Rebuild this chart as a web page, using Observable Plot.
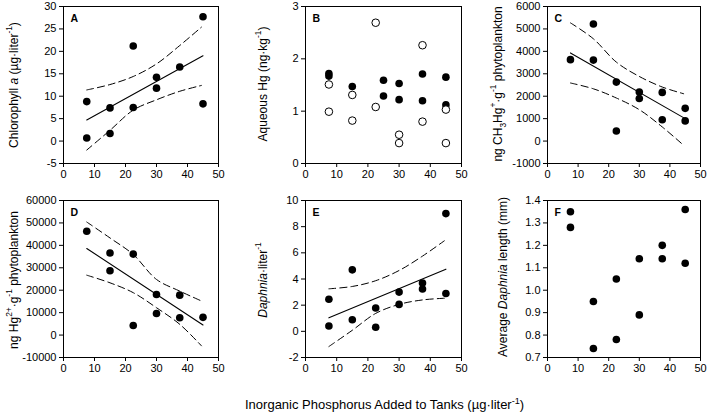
<!DOCTYPE html>
<html><head><meta charset="utf-8">
<script src="https://cdn.jsdelivr.net/npm/d3@7"></script>
<script src="https://cdn.jsdelivr.net/npm/@observablehq/plot@0.6"></script>
<style>
body{margin:0;background:#fff;}
#chart{position:relative;width:710px;height:415px;background:#fff;}
#chart > svg{position:absolute;}
</style></head><body><div id="chart"></div>
<script>
const FONT = "'Liberation Sans', Arial, sans-serif";
const xTicks = [0, 10, 20, 30, 40, 50];
const ciX = [7.5, 15, 22.5, 30, 37.5, 44.5];
const fitX = [7.5, 45];

// Panel A: chlorophyll a
const chlX = [7.5, 7.5, 15, 15, 22.5, 22.5, 30, 30, 37.5, 45, 45];
const chlY = [8.8, 0.7, 7.4, 1.7, 21.2, 7.5, 14.2, 11.8, 16.5, 27.7, 8.3];
const chlFit = [4.7, 19.0];
const chlUpper = [11.4, 12.6, 14.4, 17.2, 21.3, 25.4];
const chlLower = [-2.0, 2.4, 6.9, 9.2, 11.1, 12.4];
const chlTicks = [-5, 0, 5, 10, 15, 20, 25, 30];

// Panel B: aqueous Hg (filled and open)
const hgFilledX = [7.5, 7.5, 15, 25, 25, 30, 30, 37.5, 37.5, 45, 45];
const hgFilledY = [1.72, 1.67, 1.47, 1.59, 1.29, 1.53, 1.22, 1.71, 1.20, 1.65, 1.12];
const hgOpenX = [7.5, 7.5, 15, 15, 22.5, 22.5, 30, 30, 37.5, 37.5, 45, 45];
const hgOpenY = [1.51, 0.99, 1.31, 0.82, 2.69, 1.08, 0.55, 0.39, 2.26, 0.80, 1.03, 0.39];
const hgTicks = [0, 1, 2, 3];

// Panel C: CH3Hg+ in phytoplankton
const mehgX = [7.5, 15, 15, 22.5, 22.5, 30, 30, 37.5, 37.5, 45, 45];
const mehgY = [3630, 5220, 3610, 2630, 450, 2190, 1900, 2170, 950, 1460, 900];
const mehgFit = [3930, 1000];
const mehgUpper = [5270, 4560, 3520, 2880, 2410, 2110];
const mehgLower = [2590, 2330, 1920, 1400, 630, -190];
const mehgTicks = [-1000, 0, 1000, 2000, 3000, 4000, 5000, 6000];

// Panel D: Hg2+ in phytoplankton
const hg2X = [7.5, 15, 15, 22.5, 22.5, 30, 30, 37.5, 37.5, 45];
const hg2Y = [46300, 36600, 28700, 36100, 4300, 18100, 9600, 17800, 7700, 7900];
const hg2Fit = [38600, 4500];
const hg2Upper = [50400, 43300, 35900, 24800, 19600, 15200];
const hg2Lower = [26700, 23300, 18900, 12200, 4800, -4800];
const hg2Ticks = [-10000, 0, 10000, 20000, 30000, 40000, 50000, 60000];

// Panel E: Daphnia per liter
const daphX = [7.5, 7.5, 15, 15, 22.5, 22.5, 30, 30, 37.5, 37.5, 45, 45];
const daphY = [2.45, 0.41, 4.70, 0.88, 1.78, 0.31, 3.0, 2.06, 3.70, 3.23, 9.0, 2.89];
const daphFit = [1.03, 4.75];
const daphUpper = [3.25, 3.43, 3.87, 4.65, 5.75, 6.92];
const daphLower = [-1.16, 0.08, 1.37, 2.06, 2.40, 2.53];
const daphTicks = [-2, 0, 2, 4, 6, 8, 10];

// Panel F: average Daphnia length
const lenX = [7.5, 7.5, 15, 15, 22.5, 22.5, 30, 30, 37.5, 37.5, 45, 45];
const lenY = [1.35, 1.28, 0.95, 0.74, 1.05, 0.78, 1.14, 0.89, 1.20, 1.14, 1.36, 1.12];
const lenTicks = [0.7, 0.8, 0.9, 1.0, 1.1, 1.2, 1.3, 1.4];

const pts = (xs, ys) => xs.map((x, i) => ({x, y: ys[i]}));
const chart = document.getElementById("chart");

function regressionMarks(fit, upper, lower) {
  return [
    Plot.line(pts(fitX, fit), {x: "x", y: "y", stroke: "#000", strokeWidth: 1.1}),
    Plot.line(pts(ciX, upper), {x: "x", y: "y", stroke: "#000", strokeWidth: 1, strokeDasharray: "7,4", curve: "catmull-rom"}),
    Plot.line(pts(ciX, lower), {x: "x", y: "y", stroke: "#000", strokeWidth: 1, strokeDasharray: "7,4", curve: "catmull-rom"})
  ];
}
const dots = (xs, ys) => Plot.dot(pts(xs, ys), {x: "x", y: "y", r: 3.8, fill: "#000", stroke: "none"});

function panel(o) {
  const svg = Plot.plot({
    width: o.w, height: o.h,
    marginLeft: o.mL, marginRight: o.mR, marginTop: o.mT, marginBottom: o.mB,
    style: {fontFamily: FONT, fontSize: "11px", color: "#000", background: "none", overflow: "visible"},
    x: {domain: [0, 50], ticks: xTicks, tickSize: 4, tickPadding: 3, tickFormat: String, label: null},
    y: {domain: o.domain, ticks: o.ticks, tickSize: 4, tickPadding: 3, tickFormat: o.fmt || String, label: null},
    marks: [
      ...o.marks,
      Plot.frame({stroke: "#000", strokeWidth: 1}),
      Plot.text([o.letter], {text: d => d, frameAnchor: "top-left", dx: 7, dy: 8, textAnchor: "start", lineAnchor: "top", fontWeight: "bold", fontSize: 10.5, fill: "#000"})
    ]
  });
  svg.style.left = o.left + "px";
  svg.style.top = o.top + "px";
  chart.appendChild(svg);
}

const row1 = {top: 0, h: 185, mT: 6, mB: 22};
const row2 = {top: 185, h: 200, mT: 15, mB: 28};
const col1 = {left: 0, w: 236, mL: 63, mR: 18};
const col2 = {left: 236, w: 236, mL: 69, mR: 11};
const col3 = {left: 472, w: 238, mL: 75, mR: 10};

panel({...row1, ...col1, domain: [-5, 30], ticks: chlTicks, letter: "A",
  marks: [...regressionMarks(chlFit, chlUpper, chlLower), dots(chlX, chlY)]});
panel({...row1, ...col2, domain: [0, 3], ticks: hgTicks, letter: "B",
  marks: [dots(hgFilledX, hgFilledY),
    Plot.dot(pts(hgOpenX, hgOpenY), {x: "x", y: "y", r: 3.8, fill: "#fff", stroke: "#000", strokeWidth: 1})]});
panel({...row1, ...col3, domain: [-1000, 6000], ticks: mehgTicks, letter: "C",
  marks: [...regressionMarks(mehgFit, mehgUpper, mehgLower), dots(mehgX, mehgY)]});
panel({...row2, ...col1, domain: [-10000, 60000], ticks: hg2Ticks, letter: "D",
  marks: [...regressionMarks(hg2Fit, hg2Upper, hg2Lower), dots(hg2X, hg2Y)]});
panel({...row2, ...col2, domain: [-2, 10], ticks: daphTicks, letter: "E",
  marks: [...regressionMarks(daphFit, daphUpper, daphLower), dots(daphX, daphY)]});
panel({...row2, ...col3, domain: [0.7, 1.4], ticks: lenTicks, fmt: d3.format(".1f"), letter: "F",
  marks: [dots(lenX, lenY)]});

// Axis titles (overlay SVG with rich text)
const overlay = d3.select(chart).append("svg")
  .attr("width", 710).attr("height", 415)
  .style("left", "0px").style("top", "0px").style("pointer-events", "none")
  .attr("font-family", FONT).attr("fill", "#000");

function richText(g, parts) {
  for (const p of parts) {
    const [s, kind] = Array.isArray(p) ? p : [p, null];
    const t = g.append("tspan").text(s);
    if (kind === "i") t.attr("font-style", "italic");
    if (kind === "sup") t.attr("baseline-shift", "super").attr("font-size", "70%");
    if (kind === "sub") t.attr("baseline-shift", "sub").attr("font-size", "70%");
  }
}
const yTitles = [
  {x: 14, y: 85, parts: ["Chlorophyll ", ["a", "i"], " (\u00b5g\u00b7liter", ["-1", "sup"], ")"]},
  {x: 263, y: 84, parts: ["Aqueous Hg (ng\u00b7kg", ["-1", "sup"], ")"]},
  {x: 498, y: 84, parts: ["ng CH", ["3", "sub"], "Hg", ["+", "sup"], "\u00b7g", ["-1", "sup"], " phytoplankton"]},
  {x: 14, y: 280, parts: ["ng Hg", ["2+", "sup"], "\u00b7g", ["-1", "sup"], " phytoplankton"]},
  {x: 263, y: 280, parts: [["Daphnia", "i"], "\u00b7liter", ["-1", "sup"]]},
  {x: 503, y: 277, parts: ["Average ", ["Daphnia", "i"], " length (mm)"]}
];
for (const t of yTitles) {
  const el = overlay.append("text")
    .attr("transform", `translate(${t.x},${t.y}) rotate(-90)`)
    .attr("text-anchor", "middle").attr("dominant-baseline", "central")
    .attr("font-size", 12);
  richText(el, t.parts);
}
const xTitle = overlay.append("text")
  .attr("x", 245).attr("y", 409).attr("text-anchor", "start").attr("font-size", 13);
richText(xTitle, ["Inorganic Phosphorus Added to Tanks (\u00b5g\u00b7liter", ["-1", "sup"], ")"]);
</script></body></html>
